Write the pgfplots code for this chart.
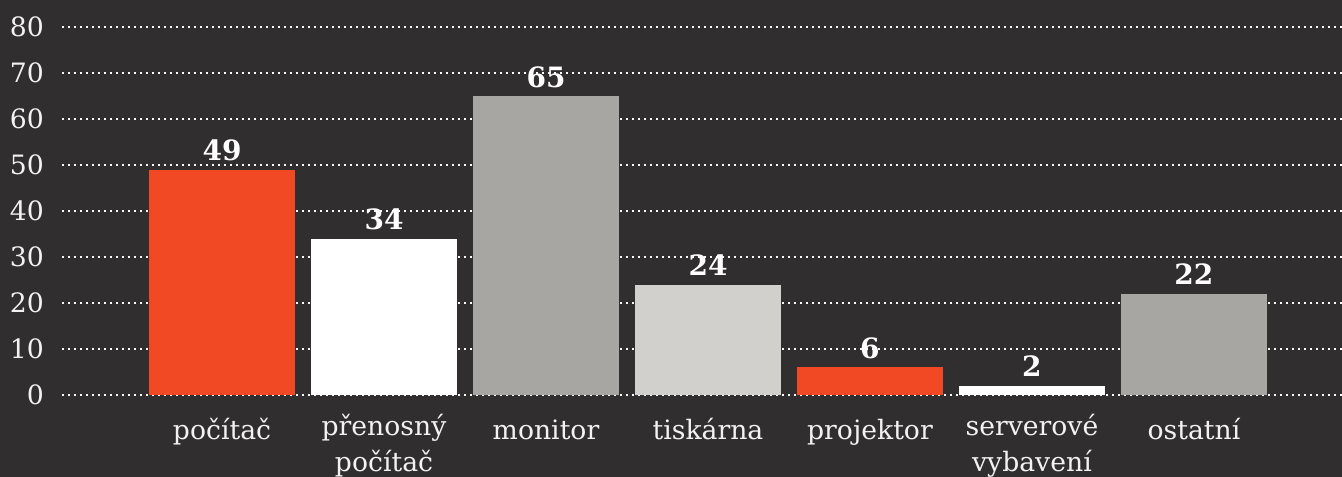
\documentclass[border=0pt]{standalone}
\usepackage{pgfplots}
\pgfplotsset{compat=1.18}
\usepackage{fontspec}
\setmainfont{DejaVu Serif}
\definecolor{bg}{RGB}{48,46,47}
\definecolor{cred}{RGB}{240,73,35}
\definecolor{cgray}{RGB}{167,166,162}
\definecolor{clight}{RGB}{209,208,204}
\definecolor{ctext}{RGB}{242,242,242}
\begin{document}
\begin{tikzpicture}
\useasboundingbox[fill=bg] (-46.5pt,-61.5pt) rectangle (960pt,296.25pt);
\begin{axis}[
  at={(0,0)}, anchor=south west,
  width=960pt, height=276pt, scale only axis,
  /pgf/number format/assume math mode=true,
  xmin=-0.988, xmax=6.914, ymin=0, ymax=80,
  axis line style={draw=none},
  major tick length=0pt,
  ytick={0,10,...,80},
  xtick={0,1,2,3,4,5,6},
  xticklabels={počítač,{přenosný\\počítač},monitor,tiskárna,projektor,{serverové\\vybavení},ostatní},
  xticklabel style={align=center, font=\fontsize{20}{26.5}\selectfont, text=ctext, anchor=north, inner sep=0pt, yshift=-14.4pt, execute at begin node={\vphantom{Í}}},
  yticklabel style={font=\fontsize{20}{24}\selectfont, text=ctext, anchor=east, inner sep=0pt, xshift=-13.5pt},
  ymajorgrids,
  grid style={white, line width=1.5pt, dash pattern=on 1.5pt off 3pt},
  ybar, bar width=0.901, bar shift=0pt,
  nodes near coords,
  nodes near coords style={font=\fontsize{21}{24}\selectfont\bfseries, text=white, anchor=base, inner sep=0pt, yshift=6.75pt},
]
\addplot[fill=cred, draw=none] coordinates {(0,49)};
\addplot[fill=white, draw=none] coordinates {(1,34)};
\addplot[fill=cgray, draw=none] coordinates {(2,65)};
\addplot[fill=clight, draw=none] coordinates {(3,24)};
\addplot[fill=cred, draw=none] coordinates {(4,6)};
\addplot[fill=white, draw=none] coordinates {(5,2)};
\addplot[fill=cgray, draw=none] coordinates {(6,22)};
\end{axis}
\end{tikzpicture}
\end{document}
